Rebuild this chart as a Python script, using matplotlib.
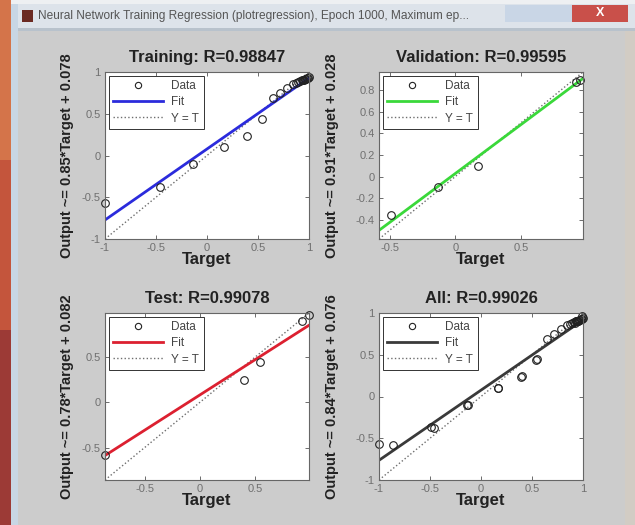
import numpy as np
import matplotlib
matplotlib.use('Agg')
from matplotlib import pyplot as plt
from matplotlib.patches import Rectangle
from matplotlib.lines import Line2D

plt.rcParams['font.family'] = ['Liberation Sans', 'DejaVu Sans']
plt.rcParams['axes.unicode_minus'] = False

# DATA ========================================================================
train_target = [-1.0, -0.46, -0.14, 0.17, 0.39, 0.54, 0.65, 0.72, 0.78, 0.84,
                0.87, 0.89, 0.91, 0.93, 0.94, 0.95, 0.96, 0.97, 0.98, 0.99, 1.0]
train_output = [-0.57, -0.38, -0.10, 0.10, 0.23, 0.44, 0.69, 0.75, 0.81, 0.86,
                0.87, 0.88, 0.89, 0.90, 0.91, 0.91, 0.92, 0.92, 0.93, 0.93, 0.94]

val_target = [-0.49, -0.13, 0.17, 0.92, 0.95]
val_output = [-0.36, -0.10, 0.10, 0.88, 0.90]

test_target = [-0.86, 0.40, 0.55, 0.93, 0.99]
test_output = [-0.58, 0.25, 0.45, 0.90, 0.97]

panel_names = ['Training', 'Validation', 'Test', 'All']
r_values = ['0.98847', '0.99595', '0.99078', '0.99026']
fit_slopes = [0.85, 0.91, 0.78, 0.84]
fit_offsets = [0.078, 0.028, 0.082, 0.076]
fit_colors = ['#2b2bdc', '#3ad83a', '#dc2030', '#3a3a3a']
panel_limits = [(-1.0, 1.0), (-0.58, 0.97), (-0.86, 0.99), (-1.0, 1.0)]
x_ticks = [[-1, -0.5, 0, 0.5, 1], [-0.5, 0, 0.5], [-0.5, 0, 0.5], [-1, -0.5, 0, 0.5, 1]]
y_ticks = [[-1, -0.5, 0, 0.5, 1], [-0.4, -0.2, 0, 0.2, 0.4, 0.6, 0.8],
           [-0.5, 0, 0.5], [-1, -0.5, 0, 0.5, 1]]

window_title = ('Neural Network Training Regression (plotregression), '
                'Epoch 1000, Maximum ep...')

all_target = train_target + val_target + test_target
all_output = train_output + val_output + test_output
targets = [train_target, val_target, test_target, all_target]
outputs = [train_output, val_output, test_output, all_output]

# FIGURE ======================================================================
W, H = 635, 525
fig = plt.figure(figsize=(W / 100, H / 100), dpi=100, facecolor='#cccccc')


def px_rect(x0, y0, x1, y1, color, **kw):
    # rectangle given in pixel coordinates, origin top-left
    fig.add_artist(Rectangle((x0 / W, 1 - y1 / H), (x1 - x0) / W, (y1 - y0) / H,
                             transform=fig.transFigure, facecolor=color,
                             edgecolor='none', **kw))


# window frame and title bar
px_rect(0, 0, 11, H, '#c4553c')
px_rect(0, 0, 11, 160, '#d4744a')
px_rect(0, 330, 11, H, '#9c3a36')
px_rect(11, 0, 18, H, '#c8d6e4')
px_rect(18, 0, W, 30, '#dde3ea')
px_rect(11, 0, W, 4, '#eef0f2')
px_rect(18, 28, W, 31, '#b8c2cc')
px_rect(625, 31, W, H, '#d2ccc4')
px_rect(22, 10, 33, 22, '#6b2a22')
px_rect(505, 5, 572, 22, '#c9d6e6')
px_rect(572, 5, 628, 22, '#c9504a')
fig.text(600 / W, 1 - 13 / H, 'X', color='white', fontsize=9, fontweight='bold',
         ha='center', va='center')
fig.text(38 / W, 1 - 16 / H, window_title, color='#555555', fontsize=8.6,
         ha='left', va='center')

# regression panels
lefts = [105 / W, 379 / W, 105 / W, 379 / W]
bottoms = [1 - 239 / H, 1 - 239 / H, 1 - 480 / H, 1 - 480 / H]
aw, ah = 204 / W, 167 / H
ylabel_pads = [6, 12, 6, 12]

for k in range(4):
    ax = fig.add_axes([lefts[k], bottoms[k], aw, ah])
    lo, hi = panel_limits[k]
    line_x = np.array([lo, hi])

    ax.plot(line_x, line_x, ls=':', color='#6e6e6e', lw=1)
    ax.plot(line_x, fit_slopes[k] * line_x + fit_offsets[k],
            color=fit_colors[k], lw=2)
    ax.plot(targets[k], outputs[k], 'o', mfc='none', mec='#222222',
            ms=5.5, mew=0.8, clip_on=False)

    ax.set_xlim(lo, hi)
    ax.set_ylim(lo, hi)
    ax.set_xticks(x_ticks[k])
    ax.set_yticks(y_ticks[k])
    ax.set_xticklabels([f'{t:g}' for t in x_ticks[k]])
    ax.set_yticklabels([f'{t:g}' for t in y_ticks[k]])
    ax.tick_params(direction='in', top=True, right=True, length=3, width=0.6,
                   labelsize=8, labelcolor='#707070', color='#555555', pad=3)
    for sp in ax.spines.values():
        sp.set_color('#666666')
        sp.set_linewidth(0.8)

    ax.set_title(f'{panel_names[k]}: R={r_values[k]}', fontsize=12,
                 fontweight='bold', color='#222222', pad=7)
    ax.set_xlabel('Target', fontsize=12, fontweight='bold', color='#222222',
                  labelpad=-1)
    ax.set_ylabel(f'Output ~= {fit_slopes[k]:g}*Target + {fit_offsets[k]:g}',
                  fontsize=10.5, fontweight='bold', color='#222222',
                  labelpad=ylabel_pads[k])

    handles = [
        Line2D([], [], ls='none', marker='o', mfc='none', mec='#222222', ms=4.5,
               mew=0.8),
        Line2D([], [], color=fit_colors[k], lw=2),
        Line2D([], [], color='#6e6e6e', ls=':', lw=1),
    ]
    leg = ax.legend(handles, ['Data', 'Fit', 'Y = T'], loc='upper left',
                    fontsize=8.5, handlelength=4.2, borderaxespad=0.3,
                    fancybox=False, framealpha=1, edgecolor='#333333',
                    labelspacing=0.35, borderpad=0.4, handletextpad=0.7)
    leg.get_frame().set_linewidth(0.7)
    for txt in leg.get_texts():
        txt.set_color('#444444')

fig.savefig('out.png', dpi=100, facecolor=fig.get_facecolor())
